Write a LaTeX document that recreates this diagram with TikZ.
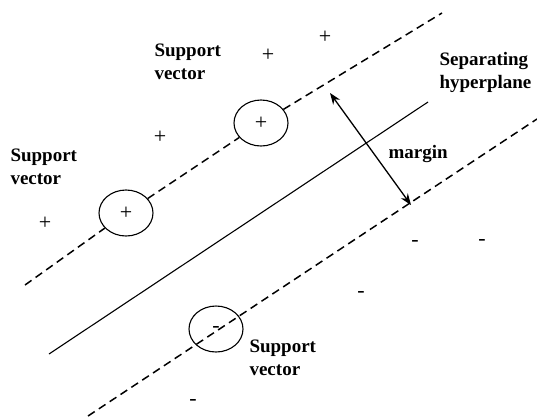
\documentclass[tikz,border=0pt]{standalone}
\usepackage{fontspec}
\setmainfont{Liberation Serif}
\usetikzlibrary{arrows.meta, shapes.geometric}
\tikzset{
  every picture/.style={x=1pt, y=-1pt, line width=1.1pt},
  label/.style={font=\fontsize{19}{23}\selectfont\bfseries, align=left, inner sep=0pt},
  sign/.style={font=\fontsize{22}{24}\selectfont, inner sep=0pt},
  svec/.style={draw, ellipse, minimum width=54pt, minimum height=46pt, inner sep=0pt, font=\fontsize{22}{24}\selectfont},
  margin line/.style={dash pattern=on 8pt off 5pt, line width=1.5pt},
  arrow/.style={{Stealth[length=4mm, width=3mm]}-{Stealth[length=4mm, width=3mm]}, line width=1.3pt},
}

\begin{document}
\begin{tikzpicture}
  \useasboundingbox (0,0) rectangle (537,416);
  % support vectors
  \node[svec] (sv1) at (126,213) {+};
  \node[svec] (sv2) at (261,123) {+};
  \node[svec] (sv3) at (216,329) {-};
  % line ends
  \coordinate (ul) at (25,285);
  \coordinate (ur) at (442,13);
  \coordinate (hl) at (49,354);
  \coordinate (hr) at (428,102);
  \coordinate (ll) at (88,416);
  \coordinate (lr) at (537,119);
  \coordinate (mt) at (330,93);
  \coordinate (mb) at (411,205);
  \draw[margin line] (ul) -- (sv1) (sv1) -- (sv2) (sv2) -- (ur);
  \draw (hl) -- (hr);
  \draw[margin line] (ll) -- (lr);
  \draw[arrow] (mt) -- (mb);
  % other points
  \node[sign] (p1) at (160,137) {+};
  \node[sign] (p2) at (45,223) {+};
  \node[sign] (p3) at (268,55) {+};
  \node[sign] (p4) at (325,37) {+};
  \node[sign] (n1) at (415,243) {-};
  \node[sign] (n2) at (482,242) {-};
  \node[sign] (n3) at (361,294) {-};
  \node[sign] (n4) at (193,402) {-};
  % labels
  \node[label, anchor=north west] (top) at (154,43) {Support\\vector};
  \node[label, anchor=north west] (left) at (10,148) {Support\\vector};
  \node[label, anchor=north west] (bottom) at (249,339) {Support\\vector};
  \node[label, anchor=north west] (sep) at (439,52) {Separating\\hyperplane};
  \node[label, anchor=base west] (margin) at (388,158) {margin};
\end{tikzpicture}
\end{document}
